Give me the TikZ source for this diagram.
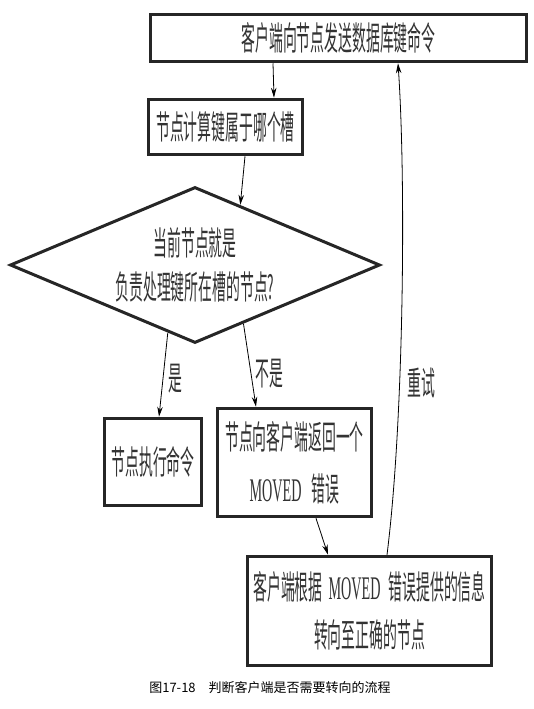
\documentclass[tikz,border=0pt]{standalone}
\usepackage{fontspec}
\usetikzlibrary{shapes.geometric,arrows.meta,calc}
\newfontfamily\cjk[FakeStretch=0.42]{Noto Sans CJK SC}
\newfontfamily\latn[FakeStretch=0.43]{Liberation Serif}
\newfontfamily\capfont{Noto Sans CJK SC}

\begin{document}
\begin{tikzpicture}[x=1pt,y=-1pt,
  flowbox/.style={draw=black!85,line width=3.5pt,fill=white,inner sep=0pt,
    align=center,text=black!80,font=\cjk\fontsize{33}{48}\selectfont},
  decision/.style={diamond,draw=black!85,line width=3pt,inner sep=0pt},
  lbl/.style={text=black!80,font=\cjk\fontsize{33}{44}\selectfont,align=center,inner sep=0pt},
  arr/.style={draw=black,line width=0.8pt,-{Stealth[length=10pt,width=5.5pt]}}]
  \path[use as bounding box] (0,0) rectangle (533,709);

  % process boxes
  \node[flowbox,minimum width=376pt,minimum height=47pt] (b1) at (338.5,38)
    {客户端向节点发送数据库键命令};
  \node[flowbox,minimum width=154pt,minimum height=55pt] (b2) at (225.5,127)
    {节点计算键属于哪个槽};
  \node[decision,minimum width=370pt,minimum height=156pt] (dia) at (195,265) {};
  \node[lbl] (diatext) at (195,265) {当前节点就是\\负责处理键所在槽的节点?};
  \node[flowbox,minimum width=97pt,minimum height=87pt] (b3) at (153,462)
    {节点执行命令};
  \node[flowbox,minimum width=154pt,minimum height=108pt,
    font=\cjk\fontsize{33}{52}\selectfont] (b4) at (294.5,462.5)
    {节点向客户端返回一个\\{\latn MOVED}\hspace{10pt}错误};
  \node[flowbox,minimum width=244pt,minimum height=109pt] (b5) at (369.5,611)
    {客户端根据\hspace{6pt}{\latn MOVED}\hspace{8pt}错误提供的信息\\转向至正确的节点};

  % connectors
  \draw[arr] ([xshift=-65.5pt]b1.south) -- ([xshift=48.5pt]b2.north);
  \draw[arr] ([xshift=19.5pt]b2.south) -- ($(dia.north)!0.243!(dia.east)$);
  \draw[arr] ($(dia.south)!0.146!(dia.west)$) -- ([xshift=6pt]b3.north)
    node[lbl,pos=0.55,right=5pt] (yes) {是};
  \draw[arr] ($(dia.south)!0.26!(dia.east)$) -- ([xshift=-38.5pt]b4.north)
    node[lbl,pos=0.6,right=4pt] (no) {不是};
  \draw[arr] ([xshift=21.5pt]b4.south) -- ([xshift=-41.5pt]b5.north);
  \draw[arr] ([xshift=17.5pt]b5.north) .. controls (404,420) and (406,180) ..
    ([xshift=59.5pt]b1.south);
  \node[lbl] (retry) at (421,383) {重试};

  % caption
  \node[text=black,font=\capfont\fontsize{13}{13}\selectfont] (cap) at (270,688)
    {图17-18\quad 判断客户端是否需要转向的流程};
\end{tikzpicture}
\end{document}
